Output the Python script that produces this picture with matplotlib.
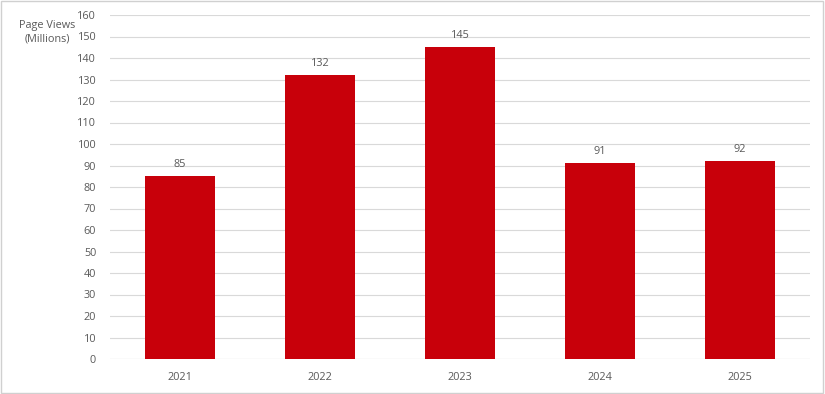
import matplotlib.pyplot as plt
import numpy as np

years = ["2021", "2022", "2023", "2024", "2025"]
views = [85, 132, 145, 91, 92]
yticks = list(range(0, 161, 10))

grey = "#595959"
plt.rcParams["font.family"] = ["Open Sans", "DejaVu Sans"]

fig = plt.figure(figsize=(8.25, 3.94), dpi=100)
ax = fig.add_axes([110 / 825, 35 / 394, 700 / 825, 344 / 394])

x = np.arange(len(years))
ax.bar(x, views, width=0.5, color="#C8000A", zorder=3)
for xi, v in zip(x, views):
    ax.text(xi, v + 3, str(v), ha="center", va="bottom", fontsize=7.8, color=grey)

ax.set_xlim(-0.5, len(years) - 0.5)
ax.set_ylim(0, 160)
ax.set_yticks(yticks)
ax.set_xticks(x)
ax.set_xticklabels(years)
ax.tick_params(axis="both", length=0, labelsize=7.8, labelcolor=grey)
ax.tick_params(axis="y", pad=10)
ax.tick_params(axis="x", pad=9)
ax.grid(axis="y", color="#d9d9d9", linewidth=0.8, zorder=0)
for s in ax.spines.values():
    s.set_visible(False)
ax.axhline(0, color="#d9d9d9", linewidth=0.8, zorder=2)

fig.text(47 / 825, 1 - 32 / 394, "Page Views\n(Millions)", ha="center", va="center",
         fontsize=7.8, color=grey, linespacing=1.3)

fig.add_artist(plt.Rectangle((0.001, 0.002), 0.997, 0.995, transform=fig.transFigure,
                             fill=False, edgecolor="#d0d0d0", linewidth=1))

fig.savefig("out.png", dpi=100)
